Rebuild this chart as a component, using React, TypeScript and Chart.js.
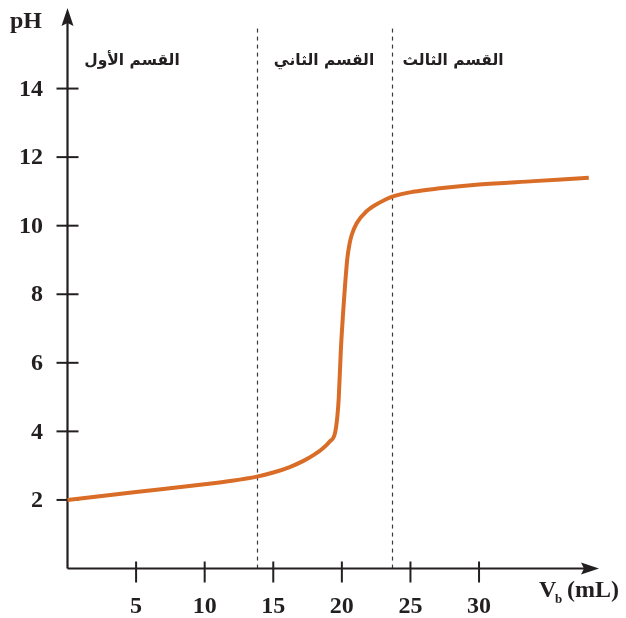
import React, { useEffect, useRef } from "react";
import { Chart, registerables } from "chart.js";

Chart.register(...registerables);

// Titration curve: volume of base added (mL) vs pH
const volumeML = [0, 5, 10, 12, 13.8, 15, 16.2, 17.2, 17.9, 18.6, 19.1, 19.5, 19.67, 19.77, 19.93, 20.15, 20.4, 20.55, 20.71, 21.08, 21.8, 22.78, 23.63, 25.2, 27.15, 30, 34, 38];
const phValues = [2.0, 2.23, 2.46, 2.56, 2.68, 2.8, 2.96, 3.14, 3.3, 3.5, 3.7, 3.95, 4.43, 4.95, 6.4, 7.8, 9.05, 9.45, 9.72, 10.07, 10.42, 10.68, 10.84, 10.99, 11.09, 11.2, 11.3, 11.4];

const xTicks = [5, 10, 15, 20, 25, 30];
const yTicks = [2, 4, 6, 8, 10, 12, 14];

// Region boundaries (dashed lines) and region titles
const regionBounds = [13.8, 23.65];
const regionTitles = ["القسم الأول", "القسم الثاني", "القسم الثالث"];
const regionTitleX = [4.7, 18.7, 28.1];
const regionTitleY = 14.8;

const X_MAX = 39;
const Y_MAX = 16;

const AXIS_COLOR = "#231f20";
const CURVE_COLOR = "#d96d27";
const SERIF = '"Liberation Serif", "DejaVu Serif", serif';

const axesPlugin = {
  id: "titrationAxes",
  beforeDatasetsDraw(chart: any) {
    const { ctx } = chart;
    const xs = chart.scales.x;
    const ys = chart.scales.y;
    const x0 = xs.getPixelForValue(0);
    const y0 = ys.getPixelForValue(0);
    ctx.save();

    // dashed region separators
    ctx.strokeStyle = "#3a3a3a";
    ctx.lineWidth = 1.2;
    ctx.setLineDash([4, 4]);
    regionBounds.forEach((v) => {
      const px = Math.round(xs.getPixelForValue(v)) + 0.5;
      ctx.beginPath();
      ctx.moveTo(px, ys.getPixelForValue(15.75));
      ctx.lineTo(px, y0);
      ctx.stroke();
    });
    ctx.setLineDash([]);

    // axis lines
    ctx.strokeStyle = AXIS_COLOR;
    ctx.fillStyle = AXIS_COLOR;
    ctx.lineWidth = 2.2;
    const yTop = 8;
    const xRight = 599;
    ctx.beginPath();
    ctx.moveTo(x0, y0);
    ctx.lineTo(x0, yTop + 12);
    ctx.moveTo(x0, y0);
    ctx.lineTo(xRight - 12, y0);
    ctx.stroke();

    // arrow heads
    ctx.beginPath();
    ctx.moveTo(x0, yTop);
    ctx.lineTo(x0 - 6, yTop + 18);
    ctx.lineTo(x0, yTop + 15);
    ctx.lineTo(x0 + 6, yTop + 18);
    ctx.closePath();
    ctx.fill();
    ctx.beginPath();
    ctx.moveTo(xRight, y0);
    ctx.lineTo(xRight - 18, y0 - 6);
    ctx.lineTo(xRight - 15, y0);
    ctx.lineTo(xRight - 18, y0 + 6);
    ctx.closePath();
    ctx.fill();

    // ticks crossing the axes
    ctx.lineWidth = 2;
    ctx.font = `bold 24px ${SERIF}`;
    ctx.textAlign = "right";
    ctx.textBaseline = "middle";
    yTicks.forEach((t) => {
      const py = ys.getPixelForValue(t);
      ctx.beginPath();
      ctx.moveTo(x0 - 11, py);
      ctx.lineTo(x0 + 11, py);
      ctx.stroke();
      ctx.fillText(String(t), 43, py + 1);
    });
    ctx.textAlign = "center";
    ctx.textBaseline = "alphabetic";
    xTicks.forEach((t) => {
      const px = xs.getPixelForValue(t);
      ctx.beginPath();
      ctx.moveTo(px, y0 - 7);
      ctx.lineTo(px, y0 + 14);
      ctx.stroke();
      ctx.fillText(String(t), px, 613);
    });

    // axis titles
    ctx.textAlign = "left";
    ctx.fillText("pH", 10, 28);
    ctx.fillText("V", 539, 597);
    ctx.font = `bold 13px ${SERIF}`;
    ctx.fillText("b", 555, 603);
    ctx.font = `bold 24px ${SERIF}`;
    ctx.fillText("(mL)", 567, 597);

    // region titles
    ctx.font = 'bold 15.5px "DejaVu Sans", sans-serif';
    ctx.textAlign = "center";
    ctx.textBaseline = "middle";
    regionTitles.forEach((label, i) => {
      ctx.fillText(label, xs.getPixelForValue(regionTitleX[i]), ys.getPixelForValue(regionTitleY));
    });
    ctx.restore();
  },
};

export default function App() {
  const canvasRef = useRef<HTMLCanvasElement | null>(null);

  useEffect(() => {
    if (!canvasRef.current) return;
    const chart = new Chart(canvasRef.current, {
      type: "line",
      data: {
        datasets: [
          {
            data: volumeML.map((v, i) => ({ x: v, y: phValues[i] })),
            borderColor: CURVE_COLOR,
            borderWidth: 4,
            pointRadius: 0,
            cubicInterpolationMode: "monotone",
            fill: false,
            clip: 8,
          } as any,
        ],
      },
      options: {
        responsive: false,
        animation: false,
        layout: { padding: { left: 67.5, right: 23.5, top: 20, bottom: 49.5 } },
        plugins: { legend: { display: false }, tooltip: { enabled: false } },
        scales: {
          x: { type: "linear", min: 0, max: X_MAX, display: false },
          y: { type: "linear", min: 0, max: Y_MAX, display: false },
        },
      },
      plugins: [axesPlugin],
    });
    return () => chart.destroy();
  }, []);

  return (
    <div style={{ position: "fixed", left: 0, top: 0, width: 626, height: 618, background: "#fff" }}>
      <canvas ref={canvasRef} width={626} height={618} style={{ display: "block" }} />
    </div>
  );
}
